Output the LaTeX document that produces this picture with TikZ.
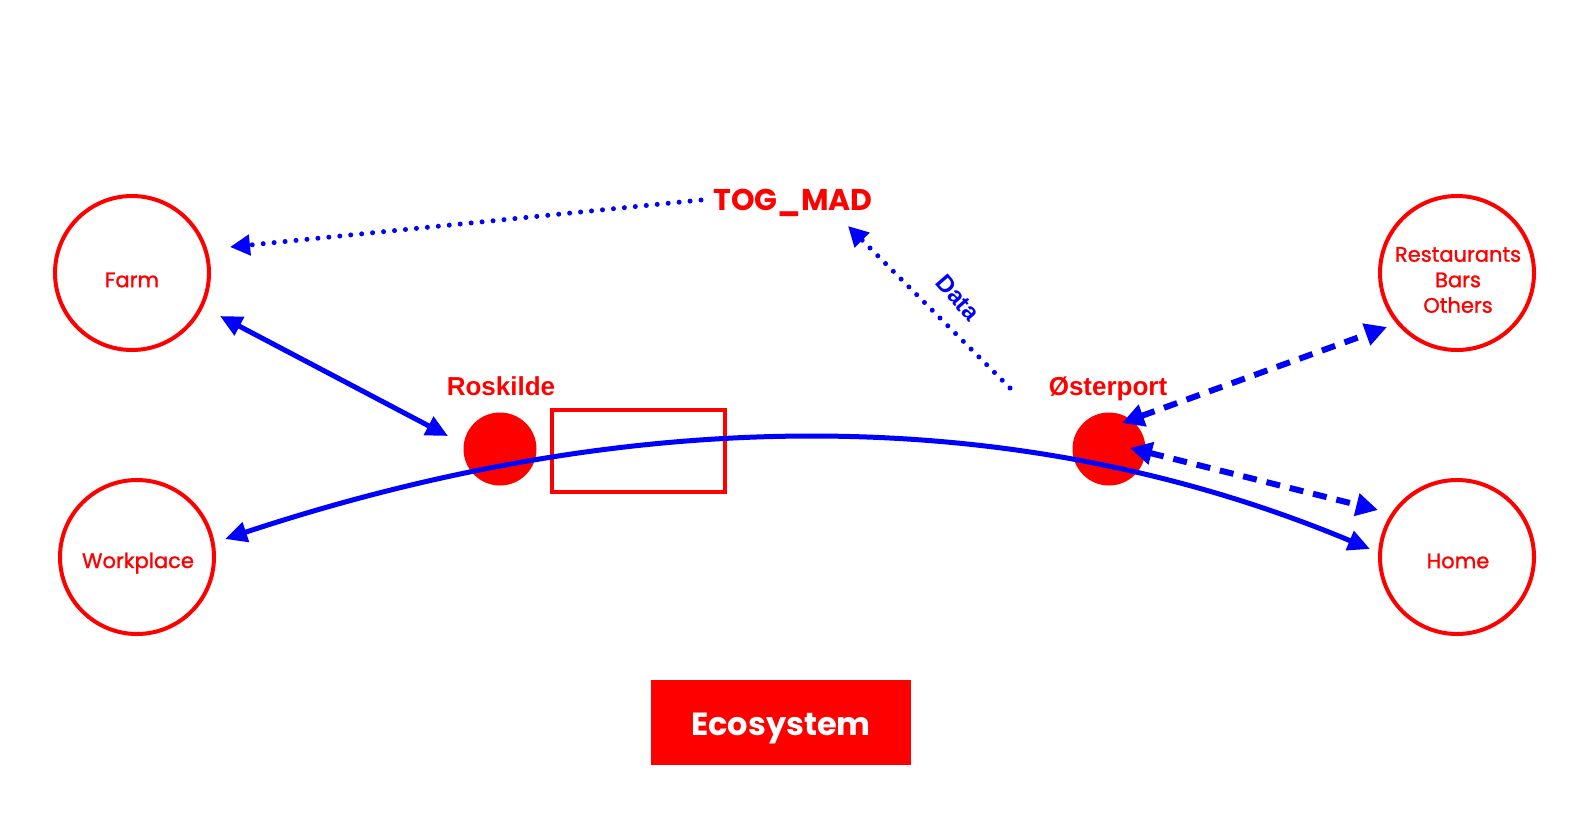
\documentclass[tikz,border=0pt]{standalone}
\usepackage{fontspec}
\newfontfamily\pop{Poppins}
\newfontfamily\popm[FakeBold=1.2]{Poppins}
\newfontfamily\helv{Liberation Sans}
\usetikzlibrary{arrows.meta}
\definecolor{tred}{HTML}{FF0000}
\definecolor{tblue}{HTML}{0000FF}
\tikzset{
  place/.style={circle, draw=tred, line width=4pt, minimum size=154pt, inner sep=0pt},
  placelabel/.style={text=tred, font=\popm\fontsize{21}{25.5}\selectfont, align=center},
  station/.style={circle, fill=tred, minimum size=73pt, inner sep=0pt},
  stationlabel/.style={text=tred, font=\helv\bfseries\fontsize{26}{30}\selectfont},
  solidlink/.style={draw=tblue, line width=5pt, {Triangle[length=22pt,width=20pt]}-{Triangle[length=22pt,width=20pt]}},
  dottedlink/.style={draw=tblue, line width=5pt, line cap=round, dash pattern=on 0pt off 11pt, -{Triangle[length=20pt,width=20pt]}},
  dashedlink/.style={draw=tblue, line width=6pt, dash pattern=on 14pt off 10pt, {Triangle[length=22pt,width=22pt]}-{Triangle[length=22pt,width=22pt]}}
}
\begin{document}
\begin{tikzpicture}[x=1pt,y=-1pt]
\useasboundingbox (0,0) rectangle (1594,814);
% places
\node[place] (farm) at (132,273) {};
\node[place] (work) at (137,557) {};
\node[place] (rest) at (1457,273) {};
\node[place] (home) at (1457,557) {};
\node[placelabel] (farmt) at (132,280) {Farm};
\node[placelabel] (workt) at (138,563) {Workplace};
\node[placelabel] (restt) at (1458,280) {Restaurants\\Bars\\Others};
\node[placelabel] (homet) at (1458,561) {Home};
% stations
\node[station] (rosk) at (500,449) {};
\node[station] (oster) at (1109,449) {};
\node[stationlabel] (roskl) at (501,386) {Roskilde};
\node[stationlabel] (osterl) at (1108,389) {Østerport};
% train box
\node[draw=tred, line width=4pt, minimum width=173pt, minimum height=82pt, inner sep=0pt] (train) at (638.5,451) {};
% TOG_MAD
\node[text=tred, font=\pop\bfseries\fontsize{30}{34}\selectfont] (tog) at (793,203) {TOG\_MAD};
% Ecosystem
\node[fill=tred, minimum width=260pt, minimum height=85pt, inner sep=0pt] (eco) at (781,722) {};
\node[text=white, font=\pop\bfseries\fontsize{32}{36}\selectfont] (ecot) at (781,728) {Ecosystem};
% connector ends
\coordinate (togw) at (701,200);
\coordinate (farmtip) at (230,247);
\coordinate (datastart) at (1010,388);
\coordinate (datatip) at (848,226);
\coordinate (farmR) at (220,316);
\coordinate (roskL) at (448,436);
\coordinate (workR) at (225,539);
\coordinate (homeL) at (1370,549);
\coordinate (osterA) at (1122,423);
\coordinate (restL) at (1387,327);
\coordinate (osterB) at (1130,448);
\coordinate (homeA) at (1378,510);
% connectors
\draw[dottedlink] (togw) -- (farmtip);
\draw[dottedlink] (datastart) -- (datatip);
\node[text=tblue, font=\helv\bfseries\fontsize{24}{28}\selectfont, rotate=-49, inner sep=0pt] (data) at (958,298) {Data};
\draw[solidlink] (farmR) -- (roskL);
\draw[solidlink] (workR) .. controls (642,401) and (1023,404) .. (homeL);
\draw[dashedlink] (osterA) -- (restL);
\draw[dashedlink] (osterB) -- (homeA);
\end{tikzpicture}
\end{document}
